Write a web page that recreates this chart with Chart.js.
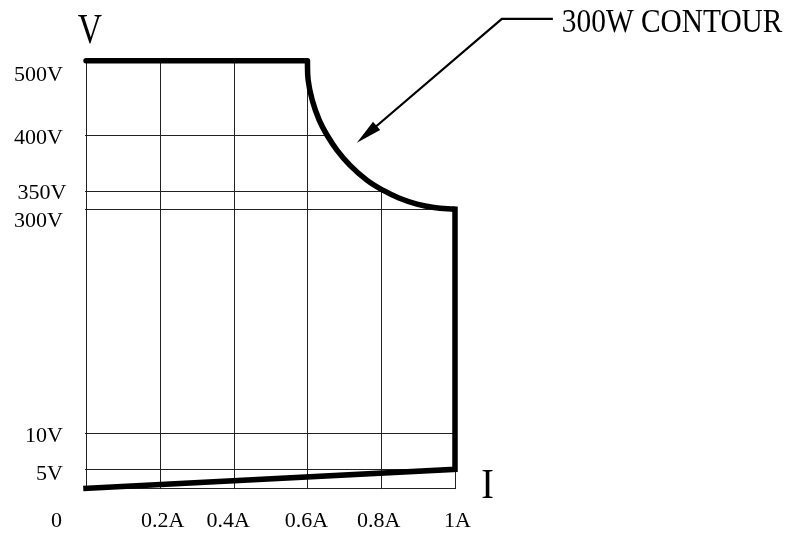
<!DOCTYPE html>
<html>
<head>
<meta charset="utf-8">
<title>300W operating envelope</title>
<script src="https://cdn.jsdelivr.net/npm/chart.js@4/dist/chart.umd.min.js"></script>
<style>
  html, body { margin: 0; padding: 0; background: #fff; }
  #wrap { width: 791px; height: 536px; }
</style>
</head>
<body>
<div id="wrap"><canvas id="c" width="791" height="536"></canvas></div>
<script>
// ---- data ---------------------------------------------------------------
// Current axis (A): gridlines and their labels
const currentTicks  = [0, 0.2, 0.4, 0.6, 0.8, 1.0];
const currentLabels = ['0', '0.2A', '0.4A', '0.6A', '0.8A', '1A'];

// Voltage axis (V): gridlines and their labels
const voltageTicks  = [500, 400, 350, 300, 10, 5, 0];
const voltageLabels = ['500V', '400V', '350V', '300V', '10V', '5V', ''];

// Constant-voltage limit along the top
const cvCurrent = [0, 0.6];
const cvVoltage = [500, 500];

// 300 W power contour between the two limits
const contourCurrent = [0.6, 0.602, 0.613, 0.632, 0.653, 0.68, 0.715, 0.761, 0.807, 0.848, 0.897, 0.943, 1.0];
const contourVoltage = [500, 474, 447, 420, 400, 386.5, 373, 359.5, 350, 330.5, 314, 305, 300];

// Constant-current limit down to the low-voltage floor
const ccCurrent = [1.0, 1.0, 0];
const ccVoltage = [300, 5, 0];

// Where the contour callout points (A, V)
const noteCurrent = 0.734;
const noteVoltage = 393;
const noteText = '300W CONTOUR';

// ---- layout -------------------------------------------------------------
// The voltage axis is drawn schematically: each break value sits at a
// fixed fraction of the plot height, linear in between.
const voltageBreaks = [[0, 0], [5, 0.0444], [10, 0.130], [300, 0.6525], [350, 0.696], [400, 0.8262], [500, 1]];
// baseline drop / right-edge shift of each voltage label from its gridline
const voltageLabelDrop  = [20, 9, 8.3, 17.4, 9, 10.7, 0];
const voltageLabelShift = [0, 0, 3.5, 0, 0, 0, 0];
// horizontal nudge of each current label from its gridline
const currentLabelShift = [-29.5, 3, -5.5, -1, -2.5, 2.5];

const SERIF = '"Liberation Serif", "Times New Roman", serif';

function breakFraction(v) {
  const b = voltageBreaks;
  if (v <= b[0][0]) return b[0][1];
  for (let i = 1; i < b.length; i++) {
    if (v <= b[i][0]) {
      const t = (v - b[i - 1][0]) / (b[i][0] - b[i - 1][0]);
      return b[i - 1][1] + t * (b[i][1] - b[i - 1][1]);
    }
  }
  const n = b.length - 1;
  return b[n][1] + (v - b[n][0]) * (b[n][1] - b[n - 1][1]) / (b[n][0] - b[n - 1][0]);
}
function breakValue(f) {
  const b = voltageBreaks;
  for (let i = 1; i < b.length; i++) {
    if (f <= b[i][1]) {
      const t = (f - b[i - 1][1]) / (b[i][1] - b[i - 1][1]);
      return b[i - 1][0] + t * (b[i][0] - b[i - 1][0]);
    }
  }
  return b[b.length - 1][0];
}

// Piecewise-linear value axis
class BrokenLinearScale extends Chart.LinearScale {
  getPixelForValue(value) {
    if (value === null || value === undefined || isNaN(value)) return NaN;
    return this.getPixelForDecimal(breakFraction(value));
  }
  getValueForPixel(pixel) {
    return breakValue(this.getDecimalForPixel(pixel));
  }
}
BrokenLinearScale.id = 'broken';
BrokenLinearScale.defaults = {};
Chart.register(BrokenLinearScale);

function pts(xs, ys) { return xs.map((x, i) => ({ x: x, y: ys[i] })); }

function squeezedText(ctx, text, x, y, size, align, squeeze) {
  ctx.save();
  ctx.font = size + 'px ' + SERIF;
  ctx.textAlign = align;
  ctx.textBaseline = 'alphabetic';
  ctx.fillStyle = '#000';
  ctx.translate(x, y);
  ctx.scale(squeeze, 1);
  ctx.fillText(text, 0, 0);
  ctx.restore();
}

// Gridlines only inside the operating envelope
const envelopeGrid = {
  id: 'envelopeGrid',
  beforeDatasetsDraw(chart) {
    const { ctx, scales: { x, y } } = chart;
    const left = x.getPixelForValue(0), right = x.getPixelForValue(1);
    const bottom = y.getPixelForValue(0);
    const curveMeta = chart.getDatasetMeta(1);
    if (curveMeta.dataset && curveMeta.dataset.updateControlPoints) {
      curveMeta.dataset.updateControlPoints(chart.chartArea, 'x');
    }
    const c = curveMeta.data;
    const top = chart.getDatasetMeta(0).data;

    ctx.save();
    ctx.beginPath();
    ctx.moveTo(left - 1, bottom + 1);
    ctx.lineTo(left - 1, top[0].y);
    ctx.lineTo(top[top.length - 1].x, top[top.length - 1].y);
    ctx.lineTo(c[0].x, c[0].y);
    for (let i = 1; i < c.length; i++) {
      const p = c[i - 1], q = c[i];
      if (p.cp2x !== undefined && q.cp1x !== undefined) {
        ctx.bezierCurveTo(p.cp2x, p.cp2y, q.cp1x, q.cp1y, q.x, q.y);
      } else {
        ctx.lineTo(q.x, q.y);
      }
    }
    ctx.lineTo(right + 1, c[c.length - 1].y);
    ctx.lineTo(right + 1, bottom + 1);
    ctx.closePath();
    ctx.clip();

    ctx.strokeStyle = '#222';
    ctx.lineWidth = 1;
    ctx.beginPath();
    currentTicks.forEach(v => {
      const px = Math.round(x.getPixelForValue(v)) + 0.5;
      ctx.moveTo(px, y.getPixelForValue(500) - 3);
      ctx.lineTo(px, bottom + 1);
    });
    voltageTicks.forEach(v => {
      const py = Math.round(y.getPixelForValue(v)) + 0.5;
      ctx.moveTo(left - 1, py);
      ctx.lineTo(right + 1, py);
    });
    ctx.stroke();
    ctx.restore();
  }
};

// Axis labels, axis names and the contour callout
const annotations = {
  id: 'annotations',
  afterDatasetsDraw(chart) {
    const { ctx, scales: { x, y }, chartArea: a } = chart;

    voltageTicks.forEach((v, i) => {
      if (!voltageLabels[i]) return;
      squeezedText(ctx, voltageLabels[i], a.left - 23 + voltageLabelShift[i],
                   y.getPixelForValue(v) + voltageLabelDrop[i], 22, 'right', 1);
    });
    currentTicks.forEach((v, i) => {
      squeezedText(ctx, currentLabels[i], x.getPixelForValue(v) + currentLabelShift[i],
                   a.bottom + 38.4, 22, 'center', 1);
    });

    // axis names
    squeezedText(ctx, 'V', a.left + 4, a.top - 17.4, 42, 'center', 0.8);
    squeezedText(ctx, 'I', a.right + 32.5, a.bottom + 10, 42, 'center', 0.9);

    // callout: arrow to the contour, leader, label
    const tx = x.getPixelForValue(noteCurrent), ty = y.getPixelForValue(noteVoltage);
    const kx = tx + 145, ky = ty - 124;
    const ex = kx + 51;
    const dx = tx - kx, dy = ty - ky, len = Math.hypot(dx, dy);
    const ux = dx / len, uy = dy / len;
    const headLen = 26, headHalf = 5.5;
    const bx = tx - ux * headLen, by = ty - uy * headLen;

    ctx.save();
    ctx.strokeStyle = '#000';
    ctx.fillStyle = '#000';
    ctx.lineWidth = 2.2;
    ctx.lineJoin = 'miter';
    ctx.beginPath();
    ctx.moveTo(ex, ky);
    ctx.lineTo(kx, ky);
    ctx.lineTo(bx + ux * 2, by + uy * 2);
    ctx.stroke();
    ctx.beginPath();
    ctx.moveTo(tx, ty);
    ctx.lineTo(bx - uy * headHalf, by + ux * headHalf);
    ctx.lineTo(bx + uy * headHalf, by - ux * headHalf);
    ctx.closePath();
    ctx.fill();
    ctx.restore();

    squeezedText(ctx, noteText, ex + 9, ky + 13, 33, 'left', 0.89);
  }
};

const lineStyle = {
  borderColor: '#000',
  borderWidth: 5.5,
  pointRadius: 0,
  fill: false,
  clip: false
};

new Chart(document.getElementById('c').getContext('2d'), {
  type: 'line',
  data: {
    datasets: [
      Object.assign({ label: 'CV limit', data: pts(cvCurrent, cvVoltage), borderCapStyle: 'round', tension: 0 }, lineStyle),
      Object.assign({ label: '300W contour', data: pts(contourCurrent, contourVoltage), borderCapStyle: 'butt', borderJoinStyle: 'round', tension: 0.4 }, lineStyle),
      Object.assign({ label: 'CC limit', data: pts(ccCurrent, ccVoltage), borderCapStyle: 'square', borderJoinStyle: 'miter', tension: 0 }, lineStyle)
    ]
  },
  options: {
    responsive: false,
    animation: false,
    devicePixelRatio: 1,
    layout: { padding: { left: 86, right: 336, top: 60.7, bottom: 47.7 } },
    plugins: { legend: { display: false }, tooltip: { enabled: false } },
    scales: {
      x: { type: 'linear', min: 0, max: 1, display: false },
      y: { type: 'broken', min: 0, max: 500, display: false }
    }
  },
  plugins: [envelopeGrid, annotations]
});
</script>
</body>
</html>
